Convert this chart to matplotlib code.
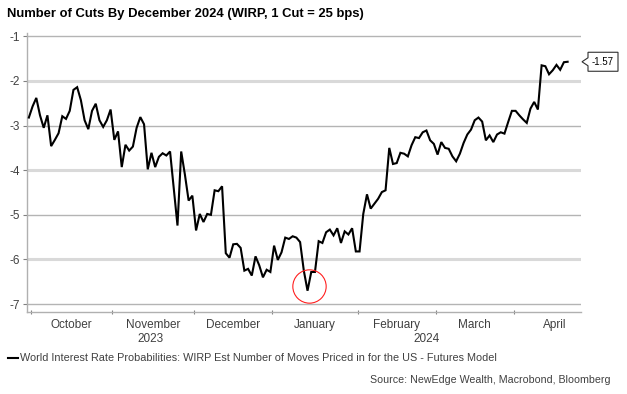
import numpy as np
import pandas as pd
import matplotlib
matplotlib.use("Agg")
import matplotlib.pyplot as plt
from matplotlib.patches import Polygon

# ---------------- data ----------------
start_date = "2023-09-29"
wirp_values = [
    -2.82, -2.57, -2.38, -2.77, -3.05, -2.77, -3.46, -3.32, -3.17, -2.79,
    -2.85, -2.67, -2.20, -2.14, -2.43, -2.88, -3.08, -2.67, -2.51, -2.88,
    -3.03, -2.88, -2.64, -3.32, -3.13, -3.93, -3.43, -3.56, -3.47, -3.05,
    -2.81, -2.97, -3.98, -3.61, -3.93, -3.70, -3.62, -3.67, -3.58, -4.40,
    -5.24, -3.58, -4.10, -4.68, -4.57, -5.35, -4.98, -5.16, -4.98, -5.00,
    -4.45, -4.47, -4.36, -5.86, -5.96, -5.66, -5.65, -5.74, -6.25, -6.21,
    -6.36, -5.93, -6.13, -6.40, -6.23, -6.28, -5.69, -6.01, -5.84, -5.51,
    -5.54, -5.48, -5.51, -5.61, -6.25, -6.70, -6.28, -6.28, -5.59, -5.63,
    -5.39, -5.33, -5.46, -5.30, -5.63, -5.37, -5.44, -5.30, -5.82, -5.82,
    -4.98, -4.54, -4.86, -4.75, -4.64, -4.49, -4.45, -3.50, -3.86, -3.84,
    -3.61, -3.63, -3.69, -3.44, -3.26, -3.28, -3.15, -3.11, -3.33, -3.41,
    -3.65, -3.37, -3.50, -3.52, -3.69, -3.80, -3.63, -3.39, -3.20, -3.09,
    -2.88, -2.82, -2.91, -3.33, -3.22, -3.37, -3.20, -3.15, -3.18, -2.92,
    -2.67, -2.67, -2.77, -2.86, -2.94, -2.62, -2.47, -2.64, -1.65, -1.67,
    -1.85, -1.76, -1.64, -1.75, -1.58, -1.57,
]
y_ticks = [-1, -2, -3, -4, -5, -6, -7]
month_names = ["October", "November", "December", "January", "February", "March", "April"]
title = "Number of Cuts By December 2024 (WIRP, 1 Cut = 25 bps)"
legend_label = "World Interest Rate Probabilities: WIRP Est Number of Moves Priced in for the US - Futures Model"
source_text = "Source: NewEdge Wealth, Macrobond, Bloomberg"

dates = pd.bdate_range(start_date, periods=len(wirp_values))
vals = np.array(wirp_values)
idx = np.arange(len(vals))

# ---------------- figure ----------------
plt.rcParams['font.family'] = ['Liberation Sans', 'DejaVu Sans']
W, H = 627, 394
fig = plt.figure(figsize=(W / 100, H / 100), dpi=100)
ax = fig.add_axes([27 / W, 1 - 311.7 / H, (581 - 27) / W, (311.7 - 33.2) / H])

txt_col = "#404040"
xmax = idx[-1] + 3.6
ax.set_xlim(-0.5, xmax)
ax.set_ylim(-7.17, -0.93)

# gridlines (alternating style)
for i, t in enumerate(y_ticks):
    if t % 2 == 0:
        ax.axhline(t, color="#d9d9d9", lw=2.2, zorder=1)
    else:
        ax.axhline(t, color="#b4b4b4", lw=1.0, zorder=1)

ax.plot(idx, vals, color="black", lw=1.5, zorder=3, solid_joinstyle="miter")

# red circle around the minimum
imin = int(np.argmin(vals))
ax.plot([imin + 0.3], [vals[imin] + 0.1], marker="o", ms=24, mfc="none",
        mec="#ff2020", mew=0.8, zorder=4, clip_on=False)

# spines
for s in ["top", "right"]:
    ax.spines[s].set_visible(False)
ax.spines["left"].set_color("#b0b0b0")
ax.spines["bottom"].set_color("#b0b0b0")
ax.spines["left"].set_linewidth(1.0)
ax.spines["bottom"].set_linewidth(1.0)

# y ticks
ax.set_yticks(y_ticks)
ax.set_yticklabels([str(t) for t in y_ticks])
ax.tick_params(axis="y", length=3, width=0.8, color="#808080", labelsize=8.5,
               labelcolor=txt_col, pad=2)

# x ticks: month boundaries (major) and month centers (minor, labelled)
month_starts = pd.date_range(dates[0], periods=len(month_names) + 1, freq="MS")
month_starts = [m for m in month_starts if m > dates[0]][:len(month_names)]
boundaries, centers = [], []
for m in month_starts:
    n_before = int(np.sum(dates < m))
    mdays = pd.bdate_range(m, m + pd.offsets.MonthEnd(0))
    boundaries.append(n_before - 0.5)
    centers.append(n_before - 0.5 + len(mdays) / 2)
ax.set_xticks(boundaries)
ax.set_xticklabels([""] * len(boundaries))
ax.set_xticks(centers, minor=True)
ax.set_xticklabels(month_names, minor=True)
ax.tick_params(axis="x", which="major", length=3, width=0.8, color="#808080", direction="inout")
ax.tick_params(axis="x", which="minor", length=0, labelsize=8.5, labelcolor=txt_col, pad=5)

# year labels
yr_2023_c = (-0.5 + boundaries[3]) / 2 + 0.25
yr_2024_c = (boundaries[3] + xmax) / 2
for xc, yr in [(yr_2023_c, "2023"), (yr_2024_c, "2024")]:
    ax.text(xc, -0.077, yr, transform=ax.get_xaxis_transform(), ha="center", va="top",
            fontsize=8.5, color=txt_col)

# title
fig.text(7 / W, 1 - 14 / H, title, ha="left", va="center", fontsize=9.4,
         fontweight="bold", color="black")

# legend
fig.add_artist(plt.Line2D([8 / W, 18 / W], [1 - 358 / H] * 2, color="black", lw=1.5))
fig.text(20 / W, 1 - 358 / H, legend_label, ha="left", va="center", fontsize=7.85, color=txt_col)

# source
fig.text(610 / W, 1 - 380 / H, source_text, ha="right", va="center", fontsize=7.7, color=txt_col)

# last value callout
last = vals[-1]
tip_disp = ax.transData.transform((xmax, last))
tx, ty = tip_disp[0] + 1, tip_disp[1]
box = [(tx, ty), (tx + 6, ty + 4), (tx + 6, ty + 9.5), (tx + 36, ty + 9.5),
       (tx + 36, ty - 9.5), (tx + 6, ty - 9.5), (tx + 6, ty - 4)]
box_fig = fig.transFigure.inverted().transform(box)
fig.add_artist(Polygon(box_fig, closed=True, facecolor="white", edgecolor="#303030",
                       lw=0.8, transform=fig.transFigure))
cx, cy = fig.transFigure.inverted().transform((tx + 21, ty))
fig.text(cx, cy, f"{last:.2f}", ha="center", va="center", fontsize=7, color="black")

fig.savefig("out.png", dpi=100)
